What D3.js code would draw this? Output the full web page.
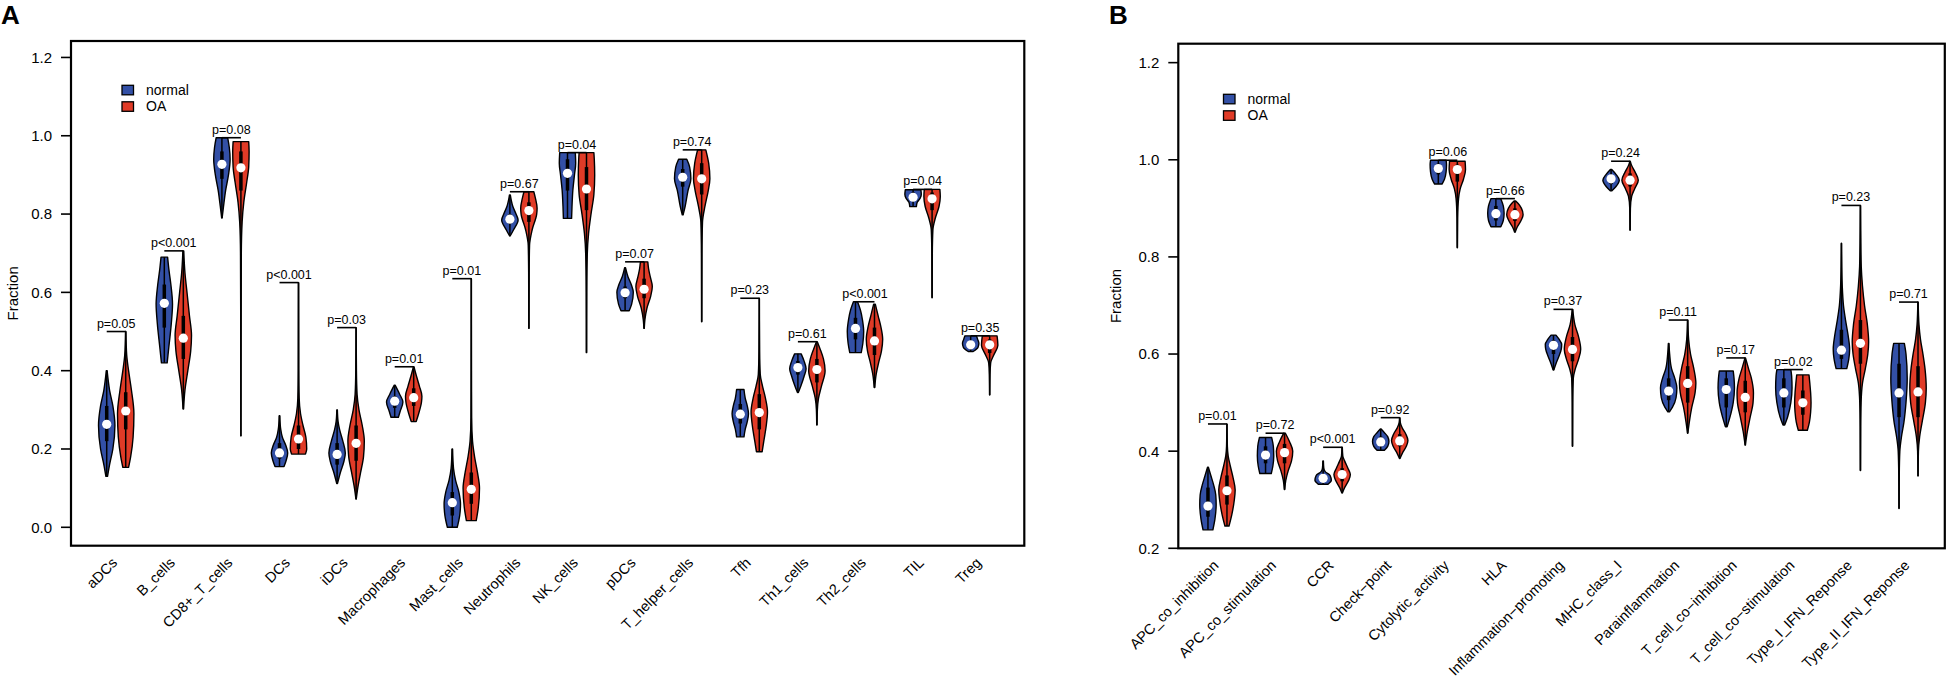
<!DOCTYPE html>
<html><head><meta charset="utf-8">
<script src="https://cdn.jsdelivr.net/npm/d3@7"></script>
<style>
html,body{margin:0;padding:0;background:#fff;}
text{font-family:"Liberation Sans",Arial,Helvetica,sans-serif;fill:#000;}
</style></head>
<body><svg id="chart" width="1946" height="680"></svg>
<script>
// ---------------- DATA: panel A (immune cells) ----------------
const cellTypes = ["aDCs","B_cells","CD8+_T_cells","DCs","iDCs","Macrophages","Mast_cells","Neutrophils","NK_cells","pDCs","T_helper_cells","Tfh","Th1_cells","Th2_cells","TIL","Treg"];
const cellP = ["p=0.05","p<0.001","p=0.08","p<0.001","p=0.03","p=0.01","p=0.01","p=0.67","p=0.04","p=0.07","p=0.74","p=0.23","p=0.61","p<0.001","p=0.04","p=0.35"];
// [min, q1, median, q3, max]
const cellNormalStats = [
 [0.13,0.22,0.263,0.31,0.40],[0.42,0.51,0.572,0.62,0.69],[0.79,0.89,0.927,0.96,0.995],[0.155,0.175,0.19,0.215,0.285],
 [0.112,0.16,0.186,0.215,0.30],[0.281,0.305,0.322,0.335,0.363],[0.0,0.03,0.063,0.09,0.20],[0.744,0.775,0.787,0.80,0.849],
 [0.789,0.86,0.904,0.94,0.957],[0.553,0.585,0.599,0.615,0.663],[0.798,0.87,0.894,0.915,0.94],[0.231,0.265,0.289,0.315,0.352],
 [0.344,0.39,0.408,0.425,0.443],[0.446,0.48,0.508,0.535,0.576],[0.819,0.835,0.843,0.855,0.862],[0.449,0.46,0.466,0.475,0.489]];
const cellOAStats = [
 [0.153,0.25,0.297,0.345,0.50],[0.302,0.43,0.483,0.54,0.706],[0.233,0.86,0.918,0.96,0.985],[0.187,0.20,0.2255,0.26,0.625],
 [0.072,0.17,0.2145,0.26,0.51],[0.27,0.31,0.331,0.355,0.41],[0.017,0.06,0.097,0.14,0.635],[0.508,0.78,0.809,0.83,0.857],
 [0.446,0.81,0.864,0.92,0.957],[0.508,0.585,0.608,0.635,0.678],[0.525,0.85,0.89,0.93,0.964],[0.193,0.25,0.293,0.34,0.585],
 [0.261,0.37,0.403,0.43,0.474],[0.357,0.44,0.476,0.51,0.57],[0.586,0.81,0.839,0.855,0.863],[0.338,0.445,0.466,0.48,0.489]];
// violin outlines: [value, relative half width]
const cellNormalShape = [
 [[0.13,0.1],[0.16,0.35],[0.2,0.75],[0.26,1],[0.31,0.75],[0.35,0.35],[0.40,0.05]],
 [[0.42,0.35],[0.46,0.55],[0.52,0.85],[0.57,1],[0.62,0.8],[0.66,0.55],[0.69,0.4]],
 [[0.79,0.03],[0.82,0.2],[0.86,0.45],[0.90,0.8],[0.94,1],[0.97,0.9],[0.995,0.7]],
 [[0.155,0.55],[0.17,0.8],[0.19,1],[0.21,0.75],[0.23,0.35],[0.25,0.15],[0.285,0.03]],
 [[0.112,0.05],[0.14,0.4],[0.17,0.85],[0.19,1],[0.22,0.7],[0.25,0.3],[0.27,0.12],[0.30,0.03]],
 [[0.281,0.45],[0.295,0.65],[0.32,1],[0.34,0.6],[0.363,0.05]],
 [[0.0,0.6],[0.03,0.9],[0.06,1],[0.09,0.8],[0.12,0.4],[0.15,0.15],[0.2,0.03]],
 [[0.744,0.03],[0.76,0.45],[0.785,1],[0.80,0.75],[0.82,0.35],[0.849,0.05]],
 [[0.789,0.5],[0.82,0.55],[0.86,0.65],[0.9,0.85],[0.93,1],[0.957,0.95]],
 [[0.553,0.5],[0.57,0.8],[0.6,1],[0.62,0.75],[0.64,0.35],[0.663,0.05]],
 [[0.798,0.05],[0.82,0.3],[0.86,0.65],[0.89,1],[0.92,0.85],[0.94,0.5]],
 [[0.231,0.45],[0.25,0.6],[0.27,0.85],[0.29,1],[0.31,0.85],[0.33,0.6],[0.352,0.45]],
 [[0.344,0.05],[0.36,0.35],[0.385,0.75],[0.405,1],[0.425,0.75],[0.443,0.4]],
 [[0.446,0.7],[0.47,0.9],[0.5,1],[0.53,0.85],[0.555,0.6],[0.576,0.25]],
 [[0.819,0.4],[0.83,0.5],[0.84,0.85],[0.85,1],[0.862,0.95]],
 [[0.449,0.3],[0.46,0.9],[0.47,1],[0.48,0.85],[0.489,0.7]]];
const cellOAShape = [
 [[0.153,0.35],[0.18,0.6],[0.23,0.9],[0.29,1],[0.35,0.7],[0.40,0.35],[0.44,0.12],[0.50,0.02]],
 [[0.302,0.03],[0.35,0.2],[0.40,0.55],[0.45,0.9],[0.49,1],[0.54,0.75],[0.60,0.45],[0.65,0.2],[0.706,0.05]],
 [[0.233,0.0],[0.5,0.02],[0.7,0.05],[0.78,0.15],[0.83,0.35],[0.88,0.7],[0.92,0.95],[0.96,1],[0.985,0.95]],
 [[0.187,0.85],[0.2,1],[0.23,0.9],[0.26,0.55],[0.29,0.25],[0.33,0.08],[0.4,0.03],[0.625,0.01]],
 [[0.072,0.02],[0.1,0.2],[0.14,0.55],[0.18,0.9],[0.22,1],[0.26,0.75],[0.30,0.35],[0.34,0.12],[0.4,0.04],[0.51,0.01]],
 [[0.27,0.3],[0.29,0.6],[0.32,0.95],[0.335,1],[0.36,0.7],[0.385,0.35],[0.41,0.03]],
 [[0.017,0.6],[0.05,0.85],[0.1,1],[0.14,0.75],[0.18,0.4],[0.22,0.15],[0.28,0.04],[0.4,0.02],[0.635,0.01]],
 [[0.508,0.01],[0.65,0.03],[0.72,0.08],[0.76,0.4],[0.80,0.95],[0.815,1],[0.84,0.8],[0.857,0.6]],
 [[0.446,0.01],[0.6,0.03],[0.7,0.1],[0.75,0.25],[0.8,0.55],[0.85,0.9],[0.9,1],[0.94,0.95],[0.957,0.9]],
 [[0.508,0.02],[0.53,0.1],[0.56,0.35],[0.59,0.8],[0.615,1],[0.64,0.75],[0.66,0.55],[0.678,0.45]],
 [[0.525,0.01],[0.7,0.03],[0.78,0.1],[0.82,0.4],[0.86,0.8],[0.89,1],[0.93,0.85],[0.964,0.5]],
 [[0.193,0.35],[0.22,0.55],[0.26,0.85],[0.295,1],[0.33,0.75],[0.36,0.4],[0.39,0.12],[0.45,0.04],[0.585,0.01]],
 [[0.261,0.02],[0.3,0.06],[0.33,0.2],[0.36,0.55],[0.40,1],[0.43,0.8],[0.455,0.4],[0.474,0.05]],
 [[0.357,0.03],[0.39,0.2],[0.42,0.5],[0.45,0.85],[0.48,1],[0.51,0.8],[0.54,0.45],[0.57,0.1]],
 [[0.586,0.01],[0.7,0.03],[0.76,0.1],[0.79,0.4],[0.82,0.85],[0.845,1],[0.863,0.95]],
 [[0.338,0.01],[0.39,0.04],[0.42,0.12],[0.44,0.5],[0.465,1],[0.489,0.9]]];
const cellTicks = [0,0.2,0.4,0.6,0.8,1.0,1.2];

// ---------------- DATA: panel B (immune functions) ----------------
const funcTypes = ["APC_co_inhibition","APC_co_stimulation","CCR","Check\u2212point","Cytolytic_activity","HLA","Inflammation\u2212promoting","MHC_class_I","Parainflammation","T_cell_co\u2212inhibition","T_cell_co\u2212stimulation","Type_I_IFN_Reponse","Type_II_IFN_Reponse"];
const funcP = ["p=0.01","p=0.72","p<0.001","p=0.92","p=0.06","p=0.66","p=0.37","p=0.24","p=0.11","p=0.17","p=0.02","p=0.23","p=0.71"];
const funcNormalStats = [
 [0.238,0.265,0.287,0.325,0.367],[0.354,0.375,0.392,0.41,0.428],[0.332,0.338,0.344,0.352,0.38],[0.402,0.412,0.419,0.43,0.4455],
 [0.95,0.97,0.982,0.992,0.999],[0.862,0.875,0.889,0.905,0.92],[0.567,0.6,0.618,0.628,0.639],[0.936,0.95,0.9607,0.968,0.98],
 [0.481,0.505,0.5237,0.55,0.622],[0.45,0.49,0.527,0.55,0.565],[0.454,0.49,0.52,0.55,0.568],[0.57,0.59,0.608,0.65,0.828],
 [0.282,0.47,0.52,0.58,0.622]];
const funcOAStats = [
 [0.246,0.29,0.3185,0.35,0.456],[0.321,0.375,0.397,0.415,0.437],[0.314,0.338,0.352,0.365,0.408],[0.385,0.41,0.421,0.435,0.469],
 [0.819,0.955,0.98,0.99,0.997],[0.851,0.874,0.887,0.9,0.915],[0.41,0.585,0.6094,0.635,0.692],[0.855,0.945,0.958,0.972,0.997],
 [0.437,0.5,0.5395,0.575,0.67],[0.4125,0.48,0.5107,0.545,0.592],[0.443,0.475,0.4996,0.525,0.557],[0.36,0.58,0.622,0.67,0.906],
 [0.349,0.47,0.522,0.575,0.707]];
const funcNormalShape = [
 [[0.238,0.6],[0.26,0.85],[0.29,1],[0.31,0.95],[0.33,0.7],[0.35,0.35],[0.367,0.05]],
 [[0.354,0.7],[0.37,0.9],[0.39,1],[0.41,0.95],[0.428,0.75]],
 [[0.332,0.6],[0.34,1],[0.35,0.85],[0.358,0.25],[0.365,0.08],[0.38,0.03]],
 [[0.402,0.45],[0.41,0.85],[0.42,1],[0.43,0.85],[0.438,0.45],[0.4455,0.05]],
 [[0.95,0.45],[0.96,0.75],[0.975,0.95],[0.99,1],[0.999,0.95]],
 [[0.862,0.6],[0.875,0.9],[0.89,1],[0.905,0.9],[0.92,0.6]],
 [[0.567,0.04],[0.58,0.3],[0.595,0.65],[0.61,0.95],[0.62,1],[0.63,0.7],[0.639,0.3]],
 [[0.936,0.1],[0.945,0.6],[0.958,1],[0.97,0.6],[0.98,0.08]],
 [[0.481,0.1],[0.49,0.45],[0.51,0.9],[0.53,1],[0.55,0.75],[0.57,0.35],[0.6,0.12],[0.622,0.03]],
 [[0.45,0.1],[0.47,0.45],[0.5,0.85],[0.53,1],[0.55,0.95],[0.565,0.85]],
 [[0.454,0.1],[0.47,0.45],[0.5,0.85],[0.53,1],[0.555,0.95],[0.568,0.85]],
 [[0.57,0.65],[0.59,0.9],[0.61,1],[0.64,0.8],[0.67,0.5],[0.7,0.25],[0.74,0.1],[0.78,0.04],[0.828,0.01]],
 [[0.282,0.01],[0.35,0.03],[0.4,0.1],[0.43,0.3],[0.46,0.6],[0.5,0.85],[0.55,1],[0.6,0.85],[0.622,0.65]]];
const funcOAShape = [
 [[0.246,0.25],[0.27,0.6],[0.30,0.9],[0.32,1],[0.345,0.75],[0.37,0.4],[0.39,0.15],[0.41,0.05],[0.456,0.01]],
 [[0.321,0.02],[0.34,0.15],[0.36,0.45],[0.38,0.85],[0.4,1],[0.42,0.6],[0.437,0.1]],
 [[0.314,0.03],[0.325,0.3],[0.34,0.8],[0.352,1],[0.365,0.7],[0.38,0.3],[0.39,0.08],[0.408,0.02]],
 [[0.385,0.03],[0.395,0.3],[0.41,0.8],[0.422,1],[0.435,0.75],[0.448,0.3],[0.458,0.08],[0.469,0.02]],
 [[0.819,0.01],[0.88,0.04],[0.92,0.15],[0.94,0.35],[0.96,0.75],[0.98,1],[0.997,0.95]],
 [[0.851,0.03],[0.862,0.3],[0.875,0.75],[0.887,1],[0.9,0.8],[0.91,0.4],[0.915,0.1]],
 [[0.41,0.01],[0.5,0.03],[0.55,0.1],[0.57,0.35],[0.59,0.75],[0.61,1],[0.635,0.75],[0.66,0.3],[0.692,0.03]],
 [[0.855,0.01],[0.9,0.04],[0.925,0.2],[0.94,0.55],[0.958,1],[0.975,0.6],[0.99,0.15],[0.997,0.02]],
 [[0.437,0.02],[0.46,0.2],[0.49,0.5],[0.52,0.9],[0.54,1],[0.57,0.75],[0.6,0.35],[0.63,0.12],[0.67,0.02]],
 [[0.4125,0.02],[0.44,0.25],[0.47,0.6],[0.5,0.95],[0.52,1],[0.55,0.75],[0.57,0.4],[0.592,0.03]],
 [[0.443,0.55],[0.46,0.8],[0.48,0.95],[0.5,1],[0.52,0.95],[0.54,0.85],[0.557,0.75]],
 [[0.36,0.01],[0.45,0.03],[0.5,0.08],[0.54,0.25],[0.57,0.6],[0.6,0.9],[0.625,1],[0.66,0.85],[0.7,0.5],[0.74,0.25],[0.78,0.1],[0.84,0.04],[0.906,0.01]],
 [[0.349,0.01],[0.4,0.05],[0.43,0.2],[0.46,0.5],[0.5,0.9],[0.53,1],[0.57,0.85],[0.6,0.6],[0.63,0.3],[0.66,0.12],[0.707,0.02]]];
const funcTicks = [0.2,0.4,0.6,0.8,1.0,1.2];

const groups = ["normal","OA"];
const groupColors = ["#3350a6","#e03b27"];

// ---------------- DRAWING ----------------
const svg = d3.select("#chart");
svg.append("rect").attr("width",1946).attr("height",680).attr("fill","#fff");

function panel(cfg){
  const g = svg.append("g");
  const x = d3.scaleLinear().domain(cfg.xDomain).range([cfg.left, cfg.right]);
  const y = d3.scaleLinear().domain(cfg.yDomain).range([cfg.bottom, cfg.top]);
  const unit = x(1) - x(0);
  const offset = 9.5 / unit;     // group offset in category units
  const halfW = 8.2;             // max violin half width in px

  // y axis ticks + labels
  cfg.ticks.forEach(t => {
    g.append("line").attr("x1", cfg.left-10).attr("x2", cfg.left)
      .attr("y1", y(t)).attr("y2", y(t)).attr("stroke","#000").attr("stroke-width",1.6);
    g.append("text").attr("x", cfg.left-19).attr("y", y(t)).attr("dy","0.36em")
      .attr("text-anchor","end").style("font-size","15px").text(d3.format(".1f")(t));
  });
  // y label
  g.append("text").attr("transform",`translate(${cfg.ylabX},${(cfg.top+cfg.bottom)/2}) rotate(-90)`)
    .attr("text-anchor","middle").style("font-size","15px").text("Fraction");

  const area = d3.area().curve(d3.curveMonotoneY);

  cfg.cats.forEach((c,i) => {
    const sets = [[cfg.nStats[i], cfg.nShape[i]],[cfg.oStats[i], cfg.oShape[i]]];
    sets.forEach(([st, sh], k) => {
      const cx = x(i + (k===0 ? -offset : offset));
      area.y(d => y(d[0])).x0(d => cx - d[1]*halfW).x1(d => cx + d[1]*halfW);
      g.append("path").attr("d", area(sh)).attr("fill", groupColors[k])
        .attr("stroke","#000").attr("stroke-width",1.4).attr("stroke-linejoin","round");
      g.append("line").attr("x1",cx).attr("x2",cx).attr("y1",y(st[0])).attr("y2",y(st[4]))
        .attr("stroke","#000").attr("stroke-width",1.5);
      g.append("line").attr("x1",cx).attr("x2",cx).attr("y1",y(st[1])).attr("y2",y(st[3]))
        .attr("stroke","#000").attr("stroke-width",3.5);
      g.append("circle").attr("cx",cx).attr("cy",y(st[2])).attr("r",4.6).attr("fill","#fff");
    });
    // significance bar
    const top = Math.max(cfg.nStats[i][4], cfg.oStats[i][4]);
    const xa = x(i-offset), xb = x(i+offset);
    g.append("line").attr("x1",xa).attr("x2",xb).attr("y1",y(top)).attr("y2",y(top))
      .attr("stroke","#000").attr("stroke-width",1.6);
    g.append("text").attr("x",(xa+xb)/2).attr("y",y(top)-4).attr("text-anchor","middle")
      .style("font-size","12.5px").text(cfg.pvals[i]);
    // x label
    g.append("text").attr("transform",`translate(${x(i)+2},${cfg.bottom+18}) rotate(-45)`)
      .attr("text-anchor","end").style("font-size","14.5px").text(c);
  });

  // frame
  g.append("rect").attr("x",cfg.left).attr("y",cfg.top)
    .attr("width",cfg.right-cfg.left).attr("height",cfg.bottom-cfg.top)
    .attr("fill","none").attr("stroke","#000").attr("stroke-width",2.2);

  // legend
  groups.forEach((name,k) => {
    g.append("rect").attr("x",cfg.legX).attr("y",cfg.legY + k*16.5).attr("width",11.5).attr("height",9.5)
      .attr("fill",groupColors[k]).attr("stroke","#000").attr("stroke-width",1.3);
    g.append("text").attr("x",cfg.legX+24).attr("y",cfg.legY + k*16.5 + 9.5)
      .style("font-size","14px").text(name);
  });
  // panel letter
  svg.append("text").attr("x",cfg.letterX+1).attr("y",24).style("font-size","26px")
    .style("font-weight","bold").text(cfg.letter);
}

panel({cats:cellTypes, pvals:cellP, nStats:cellNormalStats, oStats:cellOAStats,
  nShape:cellNormalShape, oShape:cellOAShape, ticks:cellTicks,
  xDomain:[-0.785,15.766], yDomain:[-0.047,1.242],
  left:71, right:1024.3, top:41, bottom:545.7, ylabX:18,
  legX:122, legY:85.3, letter:"A", letterX:0});

panel({cats:funcTypes, pvals:funcP, nStats:funcNormalStats, oStats:funcOAStats,
  nShape:funcNormalShape, oShape:funcOAShape, ticks:funcTicks,
  xDomain:[-0.68,12.63], yDomain:[0.2,1.239],
  left:1178.3, right:1944.8, top:43.7, bottom:548.3, ylabX:1120.5,
  legX:1223.5, legY:94.3, letter:"B", letterX:1108});
</script></body></html>
